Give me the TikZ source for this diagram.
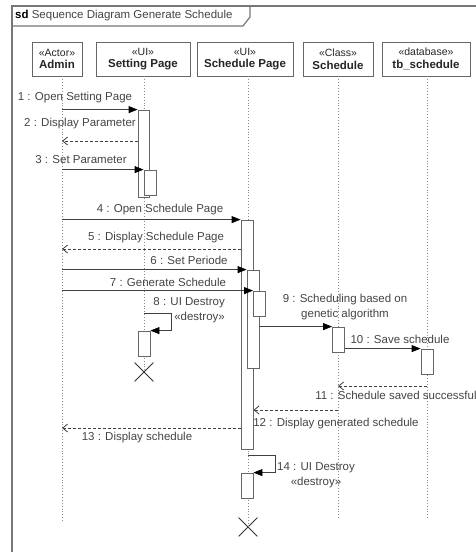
\documentclass[tikz,border=0pt]{standalone}
\usepackage{fontspec}
\setmainfont{Liberation Sans}
\usetikzlibrary{arrows.meta,shapes.misc}
\definecolor{framegray}{HTML}{777777}
\definecolor{boxgray}{HTML}{666666}
\definecolor{lifegray}{HTML}{8A8A8A}
\definecolor{msgtext}{HTML}{444444}
\newcommand{\stereo}[1]{{\fontsize{10.5}{12}\selectfont «#1»}}

\begin{document}
\begin{tikzpicture}
[every node/.style={inner sep=0pt},
 head/.style={rectangle, draw=boxgray, line width=0.9pt, fill=white, minimum height=34pt, align=center, font=\fontsize{11.5}{12.5}\selectfont, text=black!85},
 act/.style={rectangle, draw=boxgray, line width=0.8pt, fill=white, minimum width=12pt},
 life/.style={lifegray, line width=0.9pt, dotted},
 msg/.style={line width=0.8pt, color=black!75, -{Triangle[length=9pt,width=7pt,black]}},
 ret/.style={line width=0.8pt, color=black!75, dash pattern=on 3pt off 2pt, -{Straight Barb[length=5pt,width=8pt]}},
 lbl/.style={text=msgtext, font=\fontsize{11.5}{15}\selectfont},
 gone/.style={cross out, draw=black!80, line width=0.8pt, minimum size=18pt}]
\useasboundingbox (0pt, 0pt) rectangle (476pt, -552pt);
\clip (0pt, 0pt) rectangle (476pt, -552pt);
\draw [framegray, line width=1.2pt] (12pt, -6pt) rectangle (490pt, -570pt);
\draw [framegray, line width=1.2pt] (12pt, -26pt) -- (243pt, -26pt) -- (250pt, -17pt) -- (250pt, -6pt);
\node (title) [anchor=west, text=msgtext, font=\fontsize{11.5}{12}\selectfont] at (15pt, -16pt) {\textbf{\color{black}sd} Sequence Diagram Generate Schedule};
\node (admin) [head, minimum width=50pt] at (57pt, -59pt) {\stereo{Actor}\\\textbf{Admin}};
\node (setting) [head, minimum width=94pt] at (143pt, -59pt) {\stereo{UI}\\\textbf{Setting Page}};
\node (page) [head, minimum width=96pt] at (245pt, -59pt) {\stereo{UI}\\\textbf{Schedule Page}};
\node (schedule) [head, minimum width=70pt] at (338pt, -59pt) {\stereo{Class}\\\textbf{Schedule}};
\node (tb) [head, minimum width=88pt] at (426pt, -59pt) {\stereo{database}\\\textbf{tb\_schedule}};
\coordinate (adminEnd) at (62pt, -523pt);
\coordinate (scheduleEnd) at (338pt, -518pt);
\coordinate (tbEnd) at (427pt, -518pt);
\node (x8) [gone] at (144pt, -372pt) {};
\node (x14) [gone] at (248pt, -527pt) {};
\draw [life] (admin.south -| adminEnd) -- (adminEnd);
\draw [life] (setting.south -| x8) -- (x8.center);
\draw [life] (page.south -| x14) -- (x14.center);
\draw [life] (schedule.south -| scheduleEnd) -- (scheduleEnd);
\draw [life] (tb.south -| tbEnd) -- (tbEnd);
\node (a1) [act, minimum width=11pt, minimum height=87pt] at (143.5pt, -153.5pt) {};
\node (a2) [act, minimum height=25pt] at (150pt, -182.5pt) {};
\node (a3) [act, minimum height=229pt] at (247pt, -334.5pt) {};
\node (a4) [act, minimum height=98pt] at (253pt, -319pt) {};
\node (a5) [act, minimum height=25pt] at (259.5pt, -303.5pt) {};
\node (a6) [act, minimum height=25pt] at (144pt, -343.5pt) {};
\node (a7) [act, minimum height=25pt] at (338.5pt, -339.5pt) {};
\node (a8) [act, minimum height=25pt] at (427pt, -361.5pt) {};
\node (a9) [act, minimum height=25pt] at (247pt, -485.5pt) {};
\coordinate (r2) at (138pt, -141pt);
\coordinate (r5) at (241pt, -249pt);
\coordinate (s8) at (144pt, -313pt);
\coordinate (r11) at (427pt, -386pt);
\coordinate (r12) at (338pt, -410pt);
\coordinate (r13) at (241pt, -428pt);
\coordinate (s14) at (248pt, -455pt);
\draw [msg] (a1.north west -| adminEnd) to (a1.north west);
\draw [ret] (r2) to (r2 -| adminEnd);
\draw [msg] (a2.north west -| adminEnd) to (a2.north west);
\draw [msg] (a3.north west -| adminEnd) to (a3.north west);
\draw [ret] (r5) to (r5 -| adminEnd);
\draw [msg] (a4.north west -| adminEnd) to (a4.north west);
\draw [msg] (a5.north west -| adminEnd) to (a5.north west);
\draw [msg] (s8) -- ++(27pt, 0pt) |- (a6.north east);
\draw [msg] (a7.north west -| a4.east) to (a7.north west);
\draw [msg] (a8.north west -| a7.east) to (a8.north west);
\draw [ret] (r11) to (r11 -| scheduleEnd);
\draw [ret] (r12) to (r12 -| a3.east);
\draw [ret] (r13) to (r13 -| adminEnd);
\draw [msg] (s14) -- ++(27pt, 0pt) |- (a9.north east);
\node (l1) [lbl] at (75pt, -98pt) {1 : Open Setting Page};
\node (l2) [lbl] at (80pt, -124pt) {2 : Display Parameter};
\node (l3) [lbl] at (81pt, -160pt) {3 : Set Parameter};
\node (l4) [lbl] at (160pt, -210pt) {4 : Open Schedule Page};
\node (l5) [lbl] at (156pt, -238pt) {5 : Display Schedule Page};
\node (l6) [lbl] at (189pt, -260pt) {6 : Set Periode};
\node (l7) [lbl] at (168pt, -282pt) {7 : Generate Schedule};
\node (l8) [lbl, anchor=east, align=right] at (225pt, -310.5pt) {8 : UI Destroy\\«destroy»};
\node (l9) [lbl, align=center] at (345pt, -307pt) {9 : Scheduling based on\\genetic algorithm};
\node (l10) [lbl] at (400pt, -339pt) {10 : Save schedule};
\node (l11) [lbl] at (396pt, -395pt) {11 : Schedule saved successful};
\node (l12) [lbl] at (336pt, -424pt) {12 : Display generated schedule};
\node (l13) [lbl] at (137pt, -438pt) {13 : Display schedule};
\node (l14) [lbl, align=center] at (316pt, -475pt) {14 : UI Destroy\\«destroy»};
\end{tikzpicture}
\end{document}
